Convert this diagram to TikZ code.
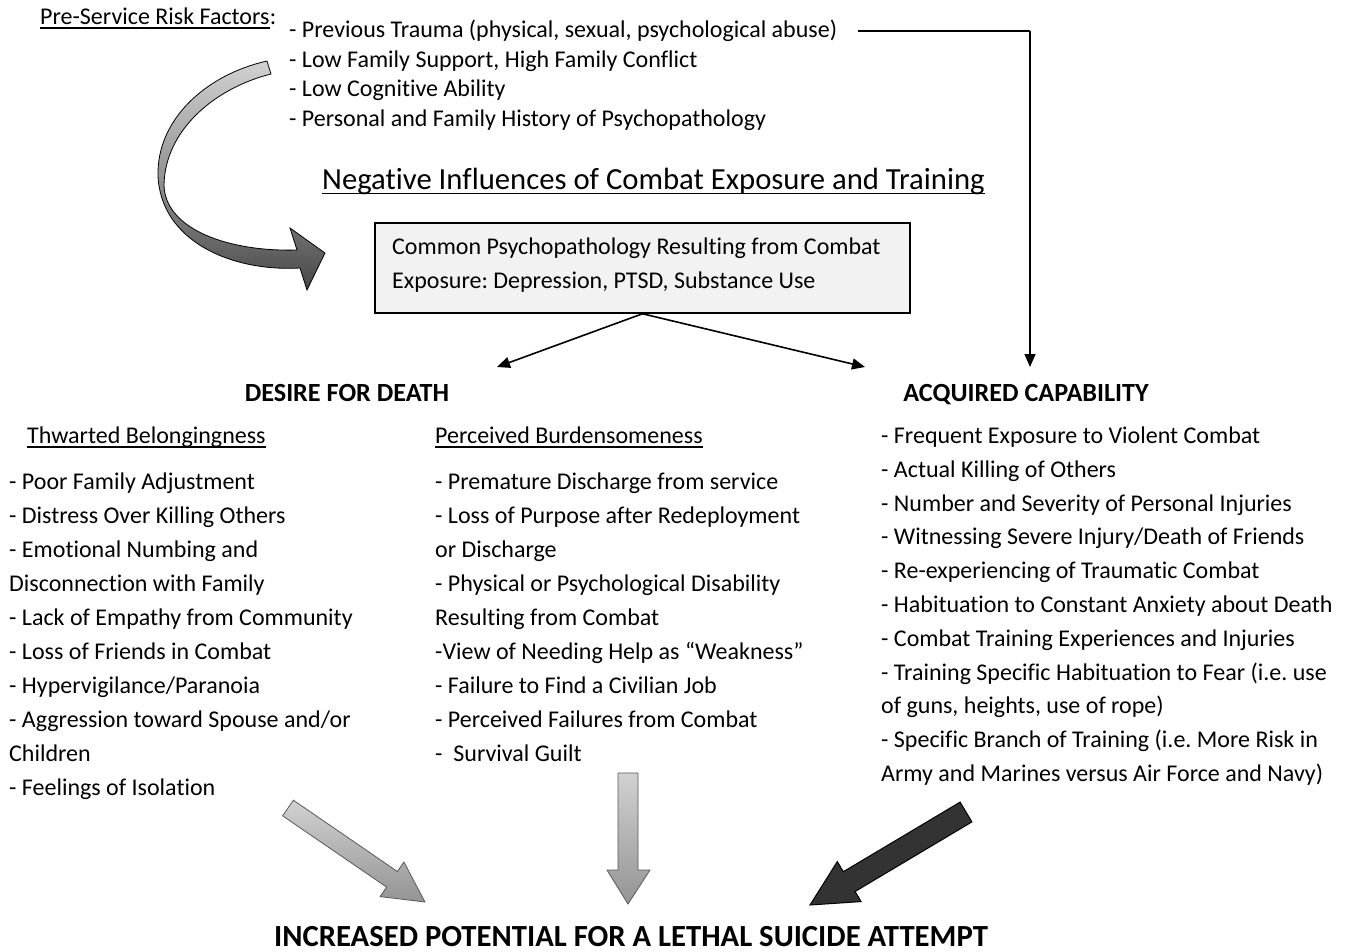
\documentclass[tikz,border=0pt]{standalone}
\usepackage{fontspec}
\setmainfont{Carlito}[Ligatures={NoCommon,NoContextual}]
\usetikzlibrary{arrows.meta}
\frenchspacing
\begin{document}
\begin{tikzpicture}[x=1pt,y=-1pt,
  txt/.style={anchor=base west,inner sep=0pt,font=\fontsize{24}{29}\selectfont},
  hd/.style={anchor=base,inner sep=0pt,font=\bfseries\fontsize{26.2}{31}\selectfont},
  ulline/.style={line width=1.5pt},
  conn/.style={line width=1.6pt,-{Triangle[length=13pt,width=11pt]}},
  lightarrow/.style={draw=black!65,line width=0.8pt,top color=black!18,bottom color=black!42},
  darkarrow/.style={draw=black,line width=1pt,fill=black!80}]
\useasboundingbox (0,0) rectangle (1353,952);

% top block
\node[txt] (pre) at (40,24.5) {Pre-Service Risk Factors};
\node[txt] (colon) at (pre.base east) {:};
\draw[ulline] ([yshift=-3.5pt]pre.base west) -- ([yshift=-3.5pt]pre.base east);

\foreach \t [count=\i] in {{- Previous Trauma (physical, sexual, psychological abuse)},
  {- Low Family Support, High Family Conflict},
  {- Low Cognitive Ability},
  {- Personal and Family History of Psychopathology}}
  \node[txt] (top\i) at (289,{37.5+29.7*(\i-1)}) {\t};

\node[txt,font=\fontsize{30.7}{36}\selectfont] (title) at (322,189.5) {Negative Influences of Combat Exposure and Training};
\draw[ulline] ([yshift=-4pt]title.base west) -- ([yshift=-4pt]title.base east);

% central box
\node[draw,line width=1.5pt,fill=black!5,minimum width=535pt,minimum height=90pt,inner sep=0pt] (box) at (642.5,268) {};
\node[txt] (box1) at (392,254.5) {Common Psychopathology Resulting from Combat};
\node[txt] (box2) at (392,288.5) {Exposure: Depression, PTSD, Substance Use};

% headings
\node[hd] (dd) at (347,401) {DESIRE FOR DEATH};
\node[hd] (ac) at (1026,401) {ACQUIRED CAPABILITY};

% connectors
\coordinate (ddin) at (497,367);
\coordinate (acin2) at (865,367);
\draw[conn] (box.south) -- (ddin);
\draw[conn] (box.south) -- (acin2);
\coordinate (tstart) at (858,31);
\coordinate (acin) at (1030,367);
\draw[line width=1.6pt] (tstart) -- (1030,31);
\draw[conn] (1030,31) -- (acin);

% sub headings
\node[txt] (tb) at (27,443.5) {Thwarted Belongingness};
\draw[ulline] ([yshift=-3.5pt]tb.base west) -- ([yshift=-3.5pt]tb.base east);
\node[txt] (pb) at (435,443.5) {Perceived Burdensomeness};
\draw[ulline] ([yshift=-3.5pt]pb.base west) -- ([yshift=-3.5pt]pb.base east);

% lists
\foreach \t [count=\i] in {{- Poor Family Adjustment},
  {- Distress Over Killing Others},
  {- Emotional Numbing and},
  {Disconnection with Family},
  {- Lack of Empathy from Community},
  {- Loss of Friends in Combat},
  {- Hypervigilance/Paranoia},
  {- Aggression toward Spouse and/or},
  {Children},
  {- Feelings of Isolation}}
  \node[txt] (tbl\i) at (9,{489.5+34*(\i-1)}) {\t};

\foreach \t [count=\i] in {{- Premature Discharge from service},
  {- Loss of Purpose after Redeployment},
  {or Discharge},
  {- Physical or Psychological Disability},
  {Resulting from Combat},
  {-View of Needing Help as “Weakness”},
  {- Failure to Find a Civilian Job},
  {- Perceived Failures from Combat},
  {-\ \ Survival Guilt}}
  \node[txt] (pbl\i) at (435,{489.5+34*(\i-1)}) {\t};

\foreach \t [count=\i] in {{- Frequent Exposure to Violent Combat},
  {- Actual Killing of Others},
  {- Number and Severity of Personal Injuries},
  {- Witnessing Severe Injury/Death of Friends},
  {- Re-experiencing of Traumatic Combat},
  {- Habituation to Constant Anxiety about Death},
  {- Combat Training Experiences and Injuries},
  {- Training Specific Habituation to Fear (i.e. use},
  {of guns, heights, use of rope)},
  {- Specific Branch of Training (i.e. More Risk in},
  {Army and Marines versus Air Force and Navy)}}
  \node[txt] (acl\i) at (881,{443.5+33.8*(\i-1)}) {\t};

% curved block arrow
\shade[draw=black,line width=0.8pt,top color=black!18,bottom color=black!72,middle color=black!42]
  (267,61) -- (271,74) .. controls (215,88) and (165,130) .. (164,185)
  .. controls (165,230) and (230,252) .. (297,250) -- (290,228) -- (325,253)
  -- (307,290) -- (300,268) .. controls (230,272) and (160,240) .. (158,175)
  .. controls (157,120) and (205,75) .. (267,61) -- cycle;

% bottom block arrows
\shade[lightarrow] (293.4,800.2) -- (397.4,871.5) -- (403.9,862) -- (425,902)
  -- (380.1,896.6) -- (386.6,887.1) -- (282.6,815.8) -- cycle;
\shade[lightarrow] (618,773) -- (638,773) -- (638,870) -- (650,870) -- (628,904)
  -- (607,870) -- (618,870) -- cycle;
\fill[darkarrow] (960.1,802.1) -- (843.3,871.7) -- (837.3,861.6) -- (810,905)
  -- (861.1,901.6) -- (855.1,891.5) -- (971.9,821.9) -- cycle;

\node[hd,font=\bfseries\fontsize{30.7}{36}\selectfont] (bot) at (631,946.5) {INCREASED POTENTIAL FOR A LETHAL SUICIDE ATTEMPT};
\end{tikzpicture}
\end{document}
